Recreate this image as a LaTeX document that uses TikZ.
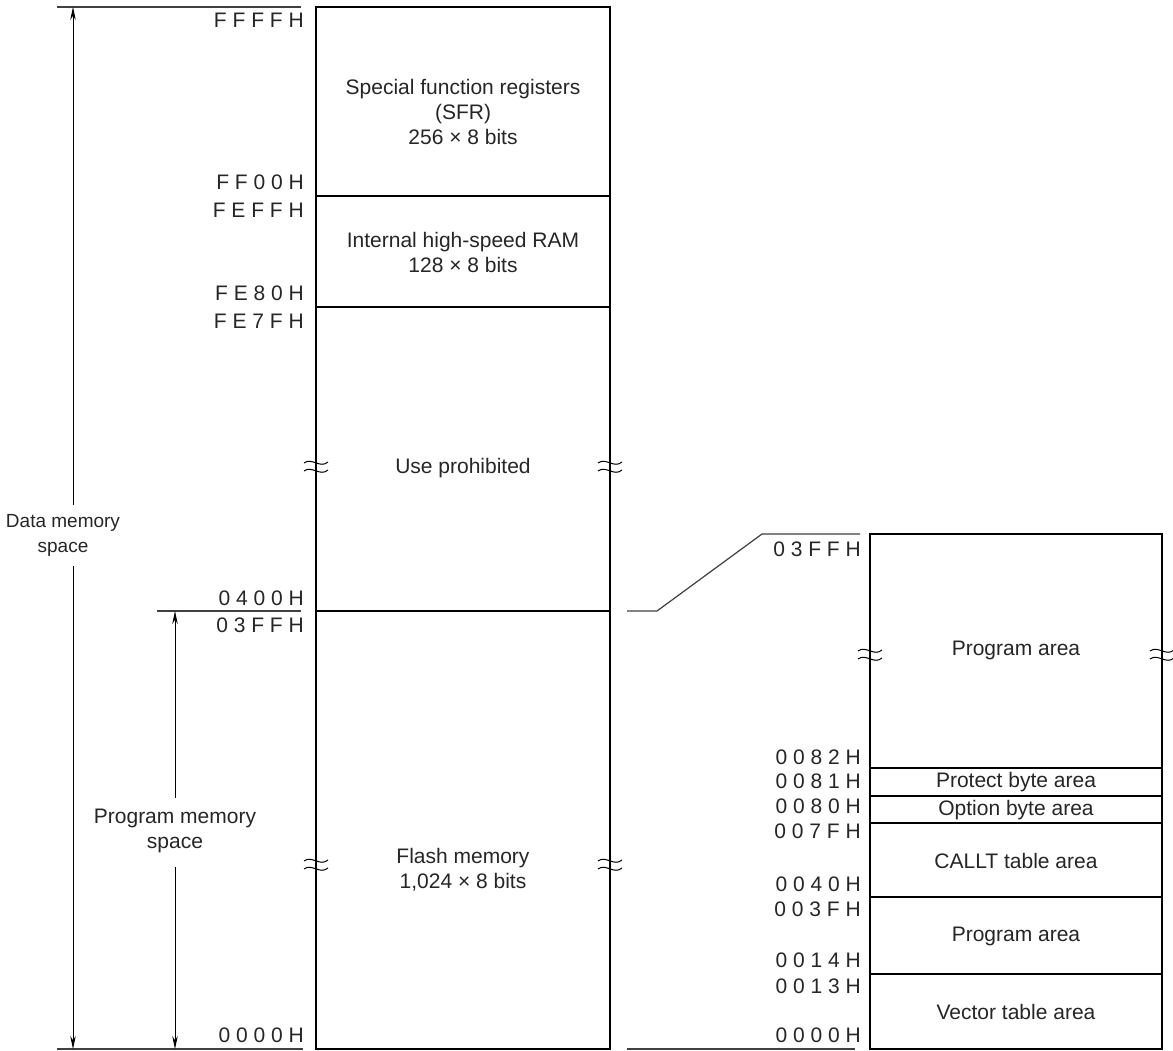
\documentclass[tikz,border=0pt]{standalone}
\usepackage{fontspec}
\setmainfont{Liberation Sans}
\usetikzlibrary{arrows.meta}
\begin{document}
\begin{tikzpicture}[x=1pt,y=-1pt,
  txt/.style={inner sep=0pt,align=center,font=\fontsize{21}{25}\selectfont,text=black!85},
  hex/.style={inner sep=0pt,anchor=east,font=\fontsize{21}{25}\selectfont,text=black!85},
  boxline/.style={line width=2.4pt},
  divline/.style={line width=1.2pt},
  guide/.style={line width=1.2pt,black!75},
  dim/.style={line width=0.9pt,-{Stealth[length=13pt,width=5.5pt]}},
  brk/.style={line width=1pt}]
\useasboundingbox (0,0) rectangle (1173,1051);
\fill[white] (0,0) rectangle (1173,1051);

% ---------- left memory box ----------
\coordinate (L1) at (316,7);
\coordinate (L2) at (610,1049);
\draw[divline] (316,196) -- (610,196);
\draw[divline] (316,307) -- (610,307);
\draw[divline] (316,611) -- (610,611);
\draw[boxline] (L1) rectangle (L2);

% break marks
\foreach \bx/\by in {316/466, 610/466, 316/864, 610/864, 870/654, 1162/654}{
  \draw[brk] (\bx-12,\by-3) .. controls (\bx-4,\by-9) and (\bx+4,\by+3) .. (\bx+12,\by-4);
  \draw[brk] (\bx-12,\by+5) .. controls (\bx-4,\by-1) and (\bx+4,\by+11) .. (\bx+12,\by+4);
}

\node[txt] (sfr) at (463,112) {Special function registers\\(SFR)\\256 × 8 bits};
\node[txt] (ram) at (463,252) {Internal high-speed RAM\\128 × 8 bits};
\node[txt] (use) at (463,468) {Use prohibited};
\node[txt] (flash) at (463,870) {Flash memory\\1,024 × 8 bits};

\node[hex] (a1) at (304,20) {F F F F H};
\node[hex] (a2) at (304,182) {F F 0 0 H};
\node[hex] (a3) at (304,210) {F E F F H};
\node[hex] (a4) at (304,293) {F E 8 0 H};
\node[hex] (a5) at (304,321) {F E 7 F H};
\node[hex] (a6) at (304,598) {0 4 0 0 H};
\node[hex] (a7) at (304,625) {0 3 F F H};
\node[hex] (a8) at (304,1035) {0 0 0 0 H};

% guide lines
\coordinate (t1) at (57,7);   \coordinate (t2) at (301,7);
\coordinate (m1) at (157,611); \coordinate (m2) at (301,611);
\coordinate (b1) at (57,1049); \coordinate (b2) at (303,1049);
\draw[guide] (t1) -- (t2);
\draw[guide] (m1) -- (m2);
\draw[guide] (b1) -- (b2);

% zoom connector
\coordinate (z1) at (627,611); \coordinate (z2) at (657,611);
\coordinate (z3) at (762,534); \coordinate (z4) at (860,534);
\draw[guide] (z1) -- (z2) -- (z3) -- (z4);
\coordinate (rb1) at (627,1049); \coordinate (rb2) at (855,1049);
\draw[guide] (rb1) -- (rb2);

% data memory space arrow
\node[txt,font=\fontsize{19}{25}\selectfont] (dms) at (63,535) {Data memory\\space};
\coordinate (d1) at (73,505); \coordinate (d2) at (73,7);
\coordinate (d3) at (73,566); \coordinate (d4) at (73,1049);
\draw[dim] (d1) -- (d2);
\draw[dim] (d3) -- (d4);

% program memory space arrow
\node[txt] (pms) at (175,831) {Program memory\\space};
\coordinate (p1) at (175,798); \coordinate (p2) at (175,611);
\coordinate (p3) at (175,867); \coordinate (p4) at (175,1049);
\draw[dim] (p1) -- (p2);
\draw[dim] (p3) -- (p4);

% ---------- right detail box ----------
\coordinate (R1) at (870,534);
\coordinate (R2) at (1162,1049);
\foreach \dy in {768,796,823,897,974}{
  \draw[divline] (870,\dy) -- (1162,\dy);
}
\draw[boxline] (R1) rectangle (R2);

\node[txt] (r1) at (1016,650) {Program area};
\node[txt] (r2) at (1016,782) {Protect byte area};
\node[txt] (r3) at (1016,810) {Option byte area};
\node[txt] (r4) at (1016,861) {CALLT table area};
\node[txt] (r5) at (1016,936) {Program area};
\node[txt] (r6) at (1016,1012) {Vector table area};

\node[hex] (h1) at (861,549) {0 3 F F H};
\node[hex] (h2) at (861,757) {0 0 8 2 H};
\node[hex] (h3) at (861,781) {0 0 8 1 H};
\node[hex] (h4) at (861,806) {0 0 8 0 H};
\node[hex] (h5) at (861,831) {0 0 7 F H};
\node[hex] (h6) at (861,884) {0 0 4 0 H};
\node[hex] (h7) at (861,909) {0 0 3 F H};
\node[hex] (h8) at (861,960) {0 0 1 4 H};
\node[hex] (h9) at (861,986) {0 0 1 3 H};
\node[hex] (h10) at (861,1035) {0 0 0 0 H};
\end{tikzpicture}
\end{document}
